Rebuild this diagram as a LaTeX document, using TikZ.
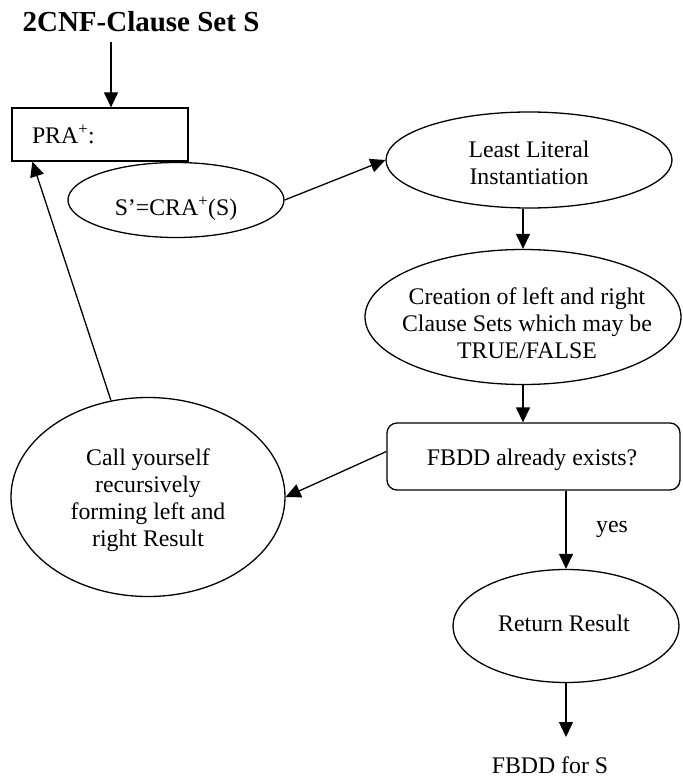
\documentclass[tikz,border=0pt]{standalone}
\usepackage{fontspec}
\setmainfont{Liberation Serif}
\usetikzlibrary{shapes.geometric,arrows.meta}

\begin{document}
\begin{tikzpicture}[x=1pt,y=-1pt,
  line width=1.3pt,
  arr/.style={-{Triangle[length=15pt,width=14pt]}},
  oval/.style={draw, ellipse, inner sep=0pt},
  txt/.style={font=\fontsize{23.8}{27}\selectfont, align=center, inner sep=0pt},
]
\useasboundingbox (0,0) rectangle (682,778);

% input heading
\node[txt, font=\bfseries\fontsize{29}{33}\selectfont, anchor=base] (title) at (141,32) {2CNF-Clause Set S};

% procedure box
\node[draw, txt, align=left, minimum height=53pt, inner xsep=20pt, text width=136pt] (pra) at (100,134.5) {PRA\textsuperscript{+}:};

% ovals (shape) and their texts
\node[oval, minimum width=216pt, minimum height=75pt] (sp) at (176,200) {};
\node[txt] (sptxt) at (176,209) {S’=CRA\textsuperscript{+}(S)};

\node[oval, minimum width=286pt, minimum height=96pt] (least) at (529,160) {};
\node[txt] (leasttxt) at (529,163) {Least Literal\\Instantiation};

\node[oval, minimum width=316pt, minimum height=135pt] (creation) at (523,317) {};
\node[txt] (creationtxt) at (527,323) {Creation of left and right\\Clause Sets which may be\\TRUE/FALSE};

\node[draw, rounded corners=10pt, minimum width=293pt, minimum height=67pt, inner sep=0pt] (fbdd) at (533.5,456.5) {};
\node[txt] (fbddtxt) at (532,460) {FBDD already exists?};

\node[oval, minimum width=274pt, minimum height=199pt] (call) at (148,497) {};
\node[txt] (calltxt) at (148,500) {Call yourself\\recursively\\forming left and\\right Result};

\node[oval, minimum width=226pt, minimum height=113pt] (ret) at (566,626) {};
\node[txt] (rettxt) at (564,623) {Return Result};

\node[txt, anchor=base] (yes) at (612,532) {yes};
\node[txt, anchor=base] (out) at (550,773) {FBDD for S};
\coordinate (outtip) at (566,737);

% connectors
\draw[arr] ([xshift=-30pt,yshift=-9pt]title.south) -- ([xshift=11pt]pra.north);
\draw[arr] (sp.east) -- (least.west);
\draw[arr] (creation.north |- least.south) -- (creation.north);
\draw[arr] (creation.south) -- (creation.south |- fbdd.north);
\draw[arr] ([yshift=5pt]fbdd.west) -- (call.east);
\draw[arr] (ret.north |- fbdd.south) -- (ret.north);
\draw[arr] (ret.south) -- (outtip);
\draw[arr] (call.111) -- ([xshift=21pt]pra.south west);
\end{tikzpicture}
\end{document}
